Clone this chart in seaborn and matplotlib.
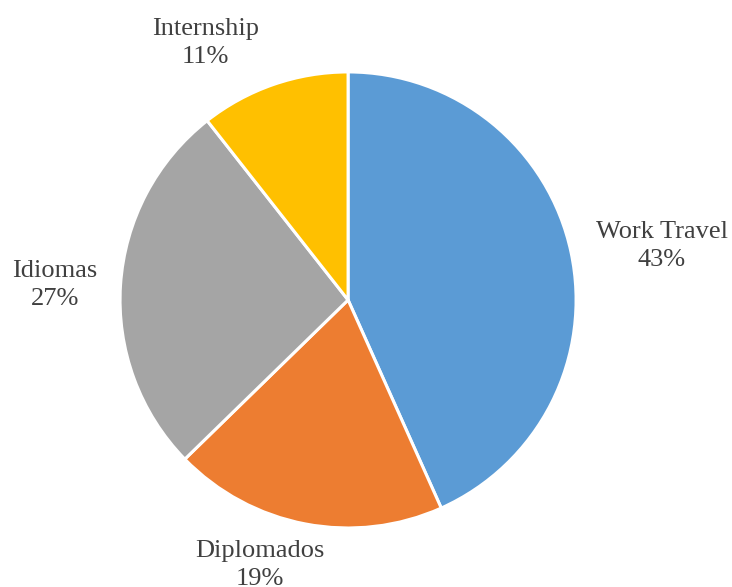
import matplotlib
matplotlib.use('Agg')
import matplotlib.pyplot as plt
import seaborn as sns

labels = ['Work Travel', 'Diplomados', 'Idiomas', 'Internship']
values = [43.3, 19.4, 26.7, 10.6]
colors = ['#5B9BD5', '#ED7D31', '#A5A5A5', '#FFC000']

sns.set_style('white')
plt.rcParams['font.family'] = ['Liberation Serif', 'DejaVu Serif']

fig = plt.figure(figsize=(7.32, 5.87), dpi=100)
ax = fig.add_axes([0.164, 0.1005, 0.623, 0.777])

wedges, _ = ax.pie(values, colors=colors, startangle=90, counterclock=False,
                   radius=1.0, wedgeprops=dict(edgecolor='white', linewidth=2.2))

# label placement (relative to the pie radius)
label_pos = [(1.377, 0.237), (-0.386, -1.162), (-1.285, 0.066), (-0.627, 1.127)]
total = sum(values)
for lab, v, (x, y) in zip(labels, values, label_pos):
    ax.text(x, y, f'{lab}\n{round(v / total * 100)}%', ha='center', va='center',
            fontsize=19, color='#404040', linespacing=1.4)

ax.set_xlim(-1, 1)
ax.set_ylim(-1, 1)
ax.set_aspect('equal')
ax.axis('off')

fig.savefig('out.png', dpi=100)
